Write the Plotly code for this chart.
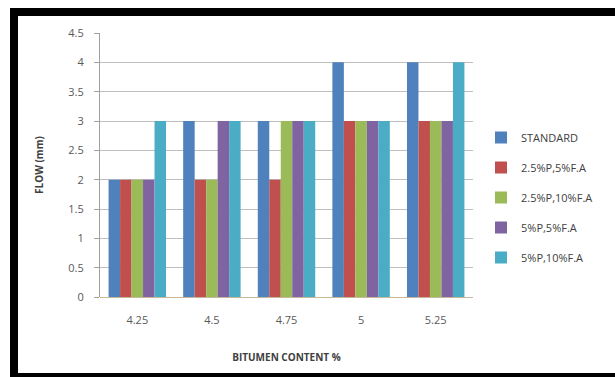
import plotly.graph_objects as go

# Bitumen content (%) on the x axis
bitumen = ["4.25", "4.5", "4.75", "5", "5.25"]

# Flow values (mm) for each mix
standard = [2, 3, 3, 4, 4]
p25_fa5 = [2, 2, 2, 3, 3]
p25_fa10 = [2, 2, 3, 3, 3]
p5_fa5 = [2, 3, 3, 3, 3]
p5_fa10 = [3, 3, 3, 3, 4]

series_names = ["STANDARD", "2.5%P,5%F.A", "2.5%P,10%F.A", "5%P,5%F.A", "5%P,10%F.A"]
series_values = [standard, p25_fa5, p25_fa10, p5_fa5, p5_fa10]
colors = ["#4F81BD", "#C0504D", "#9BBB59", "#8064A2", "#4BACC6"]

W, H = 615, 377
L, R, T, B = 100, 142, 33, 80
pw, ph = W - L - R, H - T - B


def px(x):
    return (x - L) / pw


def py(y):
    return (H - B - y) / ph


fig = go.Figure()
for i, (name, vals) in enumerate(zip(series_names, series_values)):
    fig.add_trace(go.Bar(
        x=bitumen, y=vals, name=name,
        marker=dict(color=colors[i], line=dict(width=0)),
        legendgroup=f"g{i}",
    ))

# black frame around the chart (left, top and bottom bands)
frame = [
    (10, 8, 18, 377),
    (10, 8, 615, 16),
    (10, 373, 615, 377),
]
shapes = [
    dict(type="rect", xref="paper", yref="paper",
         x0=px(a), x1=px(c), y0=py(d), y1=py(b),
         fillcolor="black", line=dict(width=0), layer="above")
    for a, b, c, d in frame
]

fig.update_layout(
    width=W, height=H,
    margin=dict(l=L, r=R, t=T, b=B),
    paper_bgcolor="white", plot_bgcolor="white",
    barmode="group", bargap=0.23, bargroupgap=0,
    font=dict(family="Open Sans, Liberation Sans, sans-serif", size=11, color="#404040"),
    showlegend=True,
    legend=dict(
        x=px(481), y=py(123), xanchor="left", yanchor="top",
        font=dict(size=11, color="#404040"),
        tracegroupgap=11, itemwidth=30,
        bgcolor="rgba(0,0,0,0)",
    ),
    shapes=shapes,
    xaxis=dict(
        showgrid=False, showline=False, ticks="",
        tickfont=dict(size=11, color="#595959"),
        ticklabelstandoff=15,
        title=dict(text="<b>BITUMEN CONTENT %</b>", font=dict(size=10, color="#404040"), standoff=27),
    ),
    yaxis=dict(
        range=[0, 4.5], dtick=0.5,
        showgrid=True, gridcolor="#BFBFBF", gridwidth=1,
        showline=True, linecolor="#A0A0A0", linewidth=1,
        ticks="outside", ticklen=5, tickcolor="#A0A0A0",
        tickfont=dict(size=11, color="#595959"),
        ticklabelstandoff=8,
        zeroline=True, zerolinecolor="#C8B89A", zerolinewidth=1,
        title=dict(text="<b>FLOW (mm)</b>", font=dict(size=10, color="#404040"), standoff=22),
    ),
)

fig.write_html("out.html")
